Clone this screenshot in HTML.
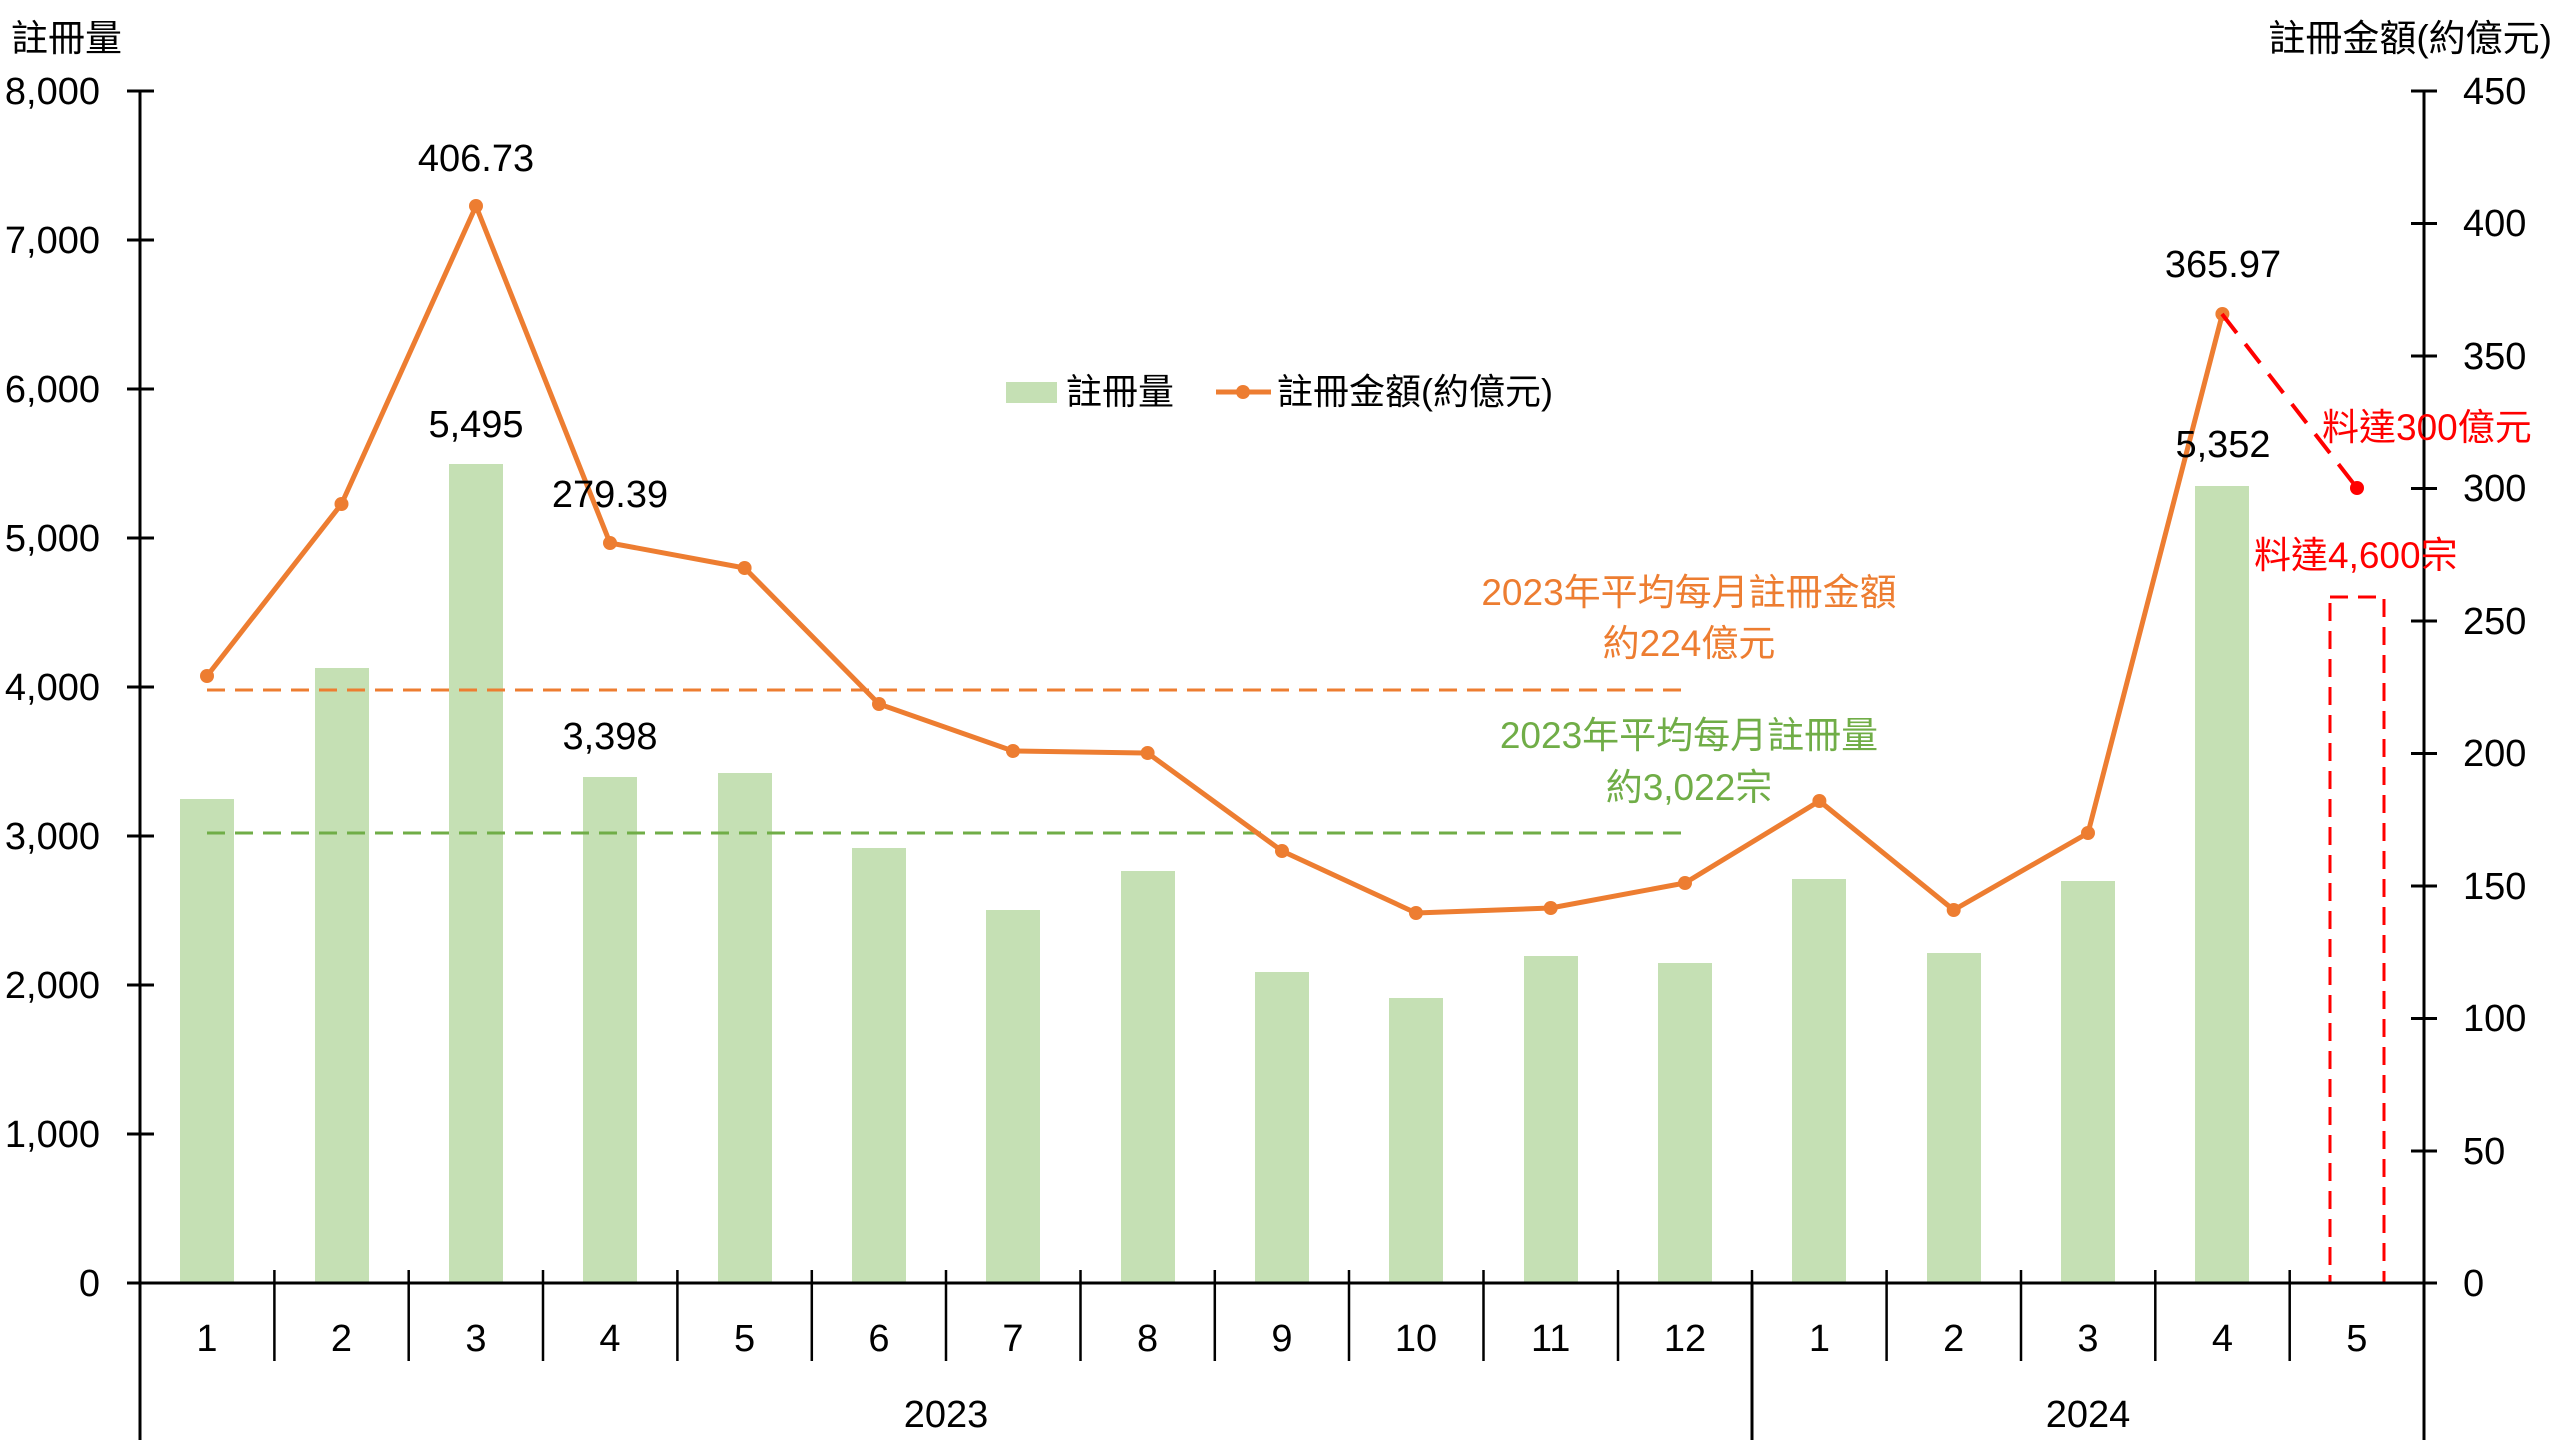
<!DOCTYPE html>
<html><head><meta charset="utf-8"><style>
html,body{margin:0;padding:0;background:#fff;}
svg text{font-family:"Liberation Sans","Noto Sans CJK TC",sans-serif;}
</style></head><body>
<svg width="2560" height="1440" viewBox="0 0 2560 1440" xmlns="http://www.w3.org/2000/svg">
<g fill="#C5E0B4">
<rect x="180" y="799" width="54" height="484"/>
<rect x="315" y="668" width="54" height="615"/>
<rect x="449" y="464" width="54" height="819"/>
<rect x="583" y="777" width="54" height="506"/>
<rect x="718" y="773" width="54" height="510"/>
<rect x="852" y="848" width="54" height="435"/>
<rect x="986" y="910" width="54" height="373"/>
<rect x="1121" y="871" width="54" height="412"/>
<rect x="1255" y="972" width="54" height="311"/>
<rect x="1389" y="998" width="54" height="285"/>
<rect x="1524" y="956" width="54" height="327"/>
<rect x="1658" y="963" width="54" height="320"/>
<rect x="1792" y="879" width="54" height="404"/>
<rect x="1927" y="953" width="54" height="330"/>
<rect x="2061" y="881" width="54" height="402"/>
<rect x="2195" y="486" width="54" height="797"/>
</g>
<rect x="2330" y="597" width="54" height="686" fill="none" stroke="#FF0000" stroke-width="3" stroke-dasharray="18,10"/>
<line x1="207" y1="690" x2="1686" y2="690" stroke="#ED7D31" stroke-width="3" stroke-dasharray="18,10"/>
<line x1="207" y1="833" x2="1686" y2="833" stroke="#70AD47" stroke-width="3" stroke-dasharray="18,10"/>
<polyline fill="none" stroke="#ED7D31" stroke-width="5" stroke-linejoin="round" points="207,676 341.5,504 476,206 610,543 744.6,568 879,704 1013,751 1147.6,753 1282,851 1416,913 1550.7,908 1685,883 1819.4,801 1953.7,910 2088,833 2222.4,314"/>
<g fill="#ED7D31">
<circle cx="207" cy="676" r="7"/><circle cx="341.5" cy="504" r="7"/><circle cx="476" cy="206" r="7"/><circle cx="610" cy="543" r="7"/><circle cx="744.6" cy="568" r="7"/><circle cx="879" cy="704" r="7"/><circle cx="1013" cy="751" r="7"/><circle cx="1147.6" cy="753" r="7"/><circle cx="1282" cy="851" r="7"/><circle cx="1416" cy="913" r="7"/><circle cx="1550.7" cy="908" r="7"/><circle cx="1685" cy="883" r="7"/><circle cx="1819.4" cy="801" r="7"/><circle cx="1953.7" cy="910" r="7"/><circle cx="2088" cy="833" r="7"/><circle cx="2222.4" cy="314" r="7"/>
</g>
<line x1="2222" y1="314" x2="2357" y2="488" stroke="#FF0000" stroke-width="4" stroke-dasharray="24,14"/>
<circle cx="2357" cy="488" r="7" fill="#FF0000"/>
<g stroke="#000" stroke-width="3">
<line x1="140" y1="91" x2="140" y2="1440"/>
<line x1="2424" y1="91" x2="2424" y2="1440"/>
<line x1="127" y1="1283" x2="2437" y2="1283"/>
<line x1="1752" y1="1283" x2="1752" y2="1440"/>
</g>
<g stroke="#000" stroke-width="3">
<line x1="127" y1="91" x2="154" y2="91"/><line x1="127" y1="240" x2="154" y2="240"/><line x1="127" y1="389" x2="154" y2="389"/><line x1="127" y1="538" x2="154" y2="538"/><line x1="127" y1="687" x2="154" y2="687"/><line x1="127" y1="836" x2="154" y2="836"/><line x1="127" y1="985" x2="154" y2="985"/><line x1="127" y1="1134" x2="154" y2="1134"/>
<line x1="2411" y1="91" x2="2437" y2="91"/><line x1="2411" y1="223.5" x2="2437" y2="223.5"/><line x1="2411" y1="356" x2="2437" y2="356"/><line x1="2411" y1="488.5" x2="2437" y2="488.5"/><line x1="2411" y1="621" x2="2437" y2="621"/><line x1="2411" y1="753.5" x2="2437" y2="753.5"/><line x1="2411" y1="886" x2="2437" y2="886"/><line x1="2411" y1="1018.5" x2="2437" y2="1018.5"/><line x1="2411" y1="1151" x2="2437" y2="1151"/>
</g>
<g stroke="#000" stroke-width="2.5">
<line x1="274.4" y1="1270" x2="274.4" y2="1361"/><line x1="408.7" y1="1270" x2="408.7" y2="1361"/><line x1="543" y1="1270" x2="543" y2="1361"/><line x1="677.4" y1="1270" x2="677.4" y2="1361"/><line x1="811.8" y1="1270" x2="811.8" y2="1361"/><line x1="946" y1="1270" x2="946" y2="1361"/><line x1="1080.5" y1="1270" x2="1080.5" y2="1361"/><line x1="1214.8" y1="1270" x2="1214.8" y2="1361"/><line x1="1349" y1="1270" x2="1349" y2="1361"/><line x1="1483.5" y1="1270" x2="1483.5" y2="1361"/><line x1="1618" y1="1270" x2="1618" y2="1361"/><line x1="1752" y1="1270" x2="1752" y2="1283"/><line x1="1886.6" y1="1270" x2="1886.6" y2="1361"/><line x1="2021" y1="1270" x2="2021" y2="1361"/><line x1="2155.3" y1="1270" x2="2155.3" y2="1361"/><line x1="2289.7" y1="1270" x2="2289.7" y2="1361"/>
</g>
<g font-size="38" fill="#000" text-anchor="end">
<text x="100" y="104">8,000</text><text x="100" y="253">7,000</text><text x="100" y="402">6,000</text><text x="100" y="551">5,000</text><text x="100" y="700">4,000</text><text x="100" y="849">3,000</text><text x="100" y="998">2,000</text><text x="100" y="1147">1,000</text><text x="100" y="1296">0</text>
</g>
<g font-size="38" fill="#000" text-anchor="start">
<text x="2463" y="104">450</text><text x="2463" y="236">400</text><text x="2463" y="369">350</text><text x="2463" y="501">300</text><text x="2463" y="634">250</text><text x="2463" y="766">200</text><text x="2463" y="899">150</text><text x="2463" y="1031">100</text><text x="2463" y="1164">50</text><text x="2463" y="1296">0</text>
</g>
<g font-size="38" fill="#000" text-anchor="middle">
<text x="207" y="1351">1</text><text x="341.5" y="1351">2</text><text x="476" y="1351">3</text><text x="610" y="1351">4</text><text x="744.6" y="1351">5</text><text x="879" y="1351">6</text><text x="1013" y="1351">7</text><text x="1147.6" y="1351">8</text><text x="1282" y="1351">9</text><text x="1416" y="1351">10</text><text x="1550.7" y="1351">11</text><text x="1685" y="1351">12</text><text x="1819.4" y="1351">1</text><text x="1953.7" y="1351">2</text><text x="2088" y="1351">3</text><text x="2222.4" y="1351">4</text><text x="2356.8" y="1351">5</text>
<text x="946" y="1427">2023</text><text x="2088" y="1427">2024</text>
<text x="476" y="171">406.73</text>
<text x="476" y="437">5,495</text>
<text x="610" y="507">279.39</text>
<text x="610" y="749">3,398</text>
<text x="2223" y="277">365.97</text>
<text x="2223" y="457">5,352</text>
</g>
<text x="11" y="51" font-size="37" fill="#000">註冊量</text>
<text x="2552" y="51" font-size="37" fill="#000" text-anchor="end">註冊金額(約億元)</text>
<rect x="1006" y="382" width="51" height="21" fill="#C5E0B4"/>
<text x="1066" y="404" font-size="36" fill="#000">註冊量</text>
<line x1="1216" y1="392" x2="1271" y2="392" stroke="#ED7D31" stroke-width="5"/>
<circle cx="1243" cy="392" r="7" fill="#ED7D31"/>
<text x="1277" y="404" font-size="36" fill="#000">註冊金額(約億元)</text>
<g font-size="37" text-anchor="middle">
<text x="1689" y="605" fill="#ED7D31">2023年平均每月註冊金額</text>
<text x="1689" y="656" fill="#ED7D31">約224億元</text>
<text x="1689" y="748" fill="#70AD47">2023年平均每月註冊量</text>
<text x="1689" y="800" fill="#70AD47">約3,022宗</text>
</g>
<g font-size="37" fill="#FF0000">
<text x="2322" y="440">料達300億元</text>
<text x="2254" y="568">料達4,600宗</text>
</g>
</svg>
</body></html>
